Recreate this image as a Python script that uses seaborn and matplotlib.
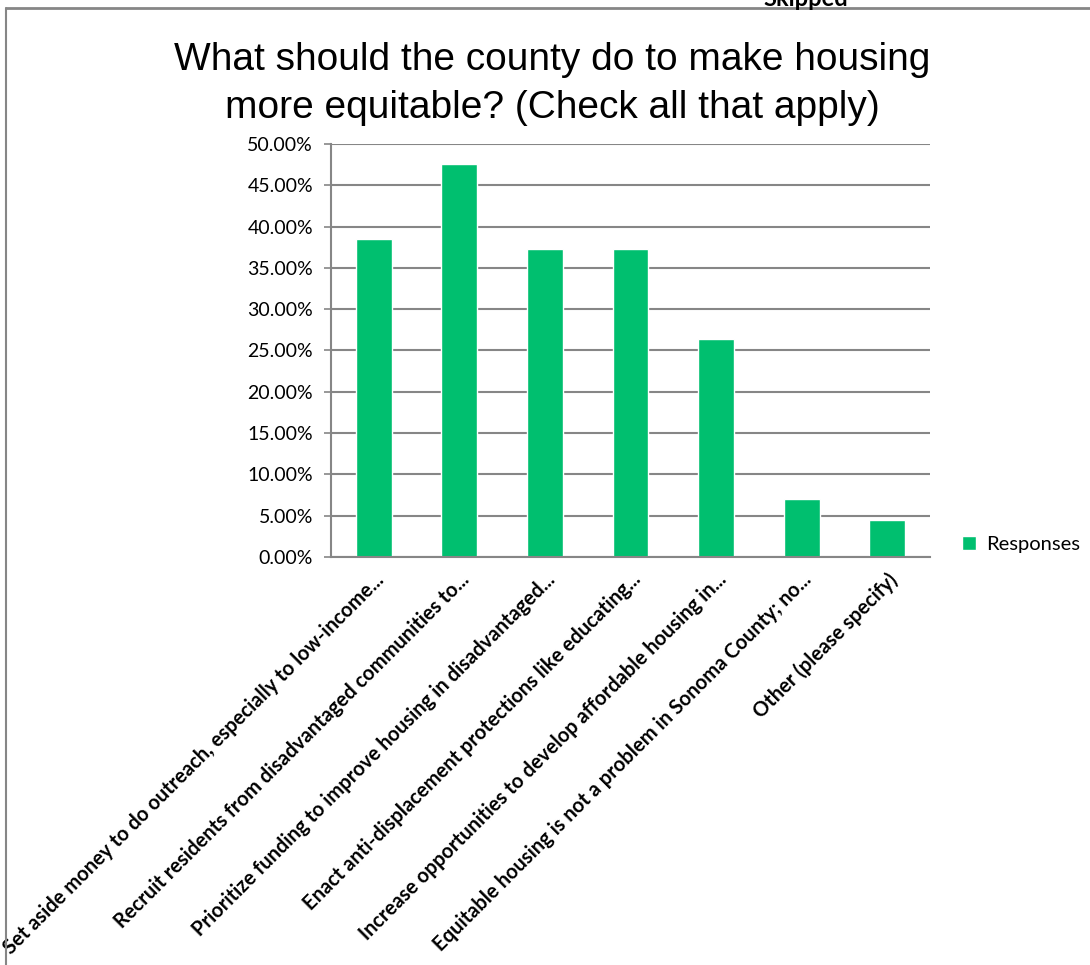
import matplotlib
matplotlib.use("Agg")
import matplotlib.pyplot as plt
import matplotlib.ticker as mticker
import seaborn as sns
import pandas as pd

# data
labels = [
    "Set aside money to do outreach, especially to low-income...",
    "Recruit residents from disadvantaged communities to...",
    "Prioritize funding to improve housing in disadvantaged...",
    "Enact anti-displacement protections like educating...",
    "Increase opportunities to develop affordable housing in...",
    "Equitable housing is not a problem in Sonoma County; no...",
    "Other (please specify)",
]
responses = [38.44, 47.62, 37.27, 37.27, 26.39, 6.99, 4.45]
title = "What should the county do to make housing\nmore equitable? (Check all that apply)"

df = pd.DataFrame({"option": labels, "pct": responses})

sns.set_theme(style="white")
plt.rcParams['font.family'] = ['Lato', 'DejaVu Sans']
plt.rcParams['text.color'] = 'black'
plt.rcParams['xtick.color'] = 'black'
plt.rcParams['ytick.color'] = 'black'

green = "#00BF6F"
grey = "#868686"

fig = plt.figure(figsize=(10.9, 9.65), dpi=100)
ax = fig.add_axes([0.3037, 0.4228, 0.5495, 0.428])

sns.barplot(data=df, x="option", y="pct", color=green, width=0.42,
            saturation=1, label="Responses", ax=ax)

ax.set_ylim(0, 50)
ax.set_xlim(-0.5, len(labels) - 0.5)
ax.yaxis.set_major_locator(mticker.MultipleLocator(5))
ax.yaxis.set_major_formatter(mticker.FuncFormatter(lambda v, p: f"{v:.2f}%"))
ax.grid(axis="y", color=grey, linewidth=1.5)
ax.set_axisbelow(True)
ax.set_xlabel("")
ax.set_ylabel("")

for s in ["top", "right"]:
    ax.spines[s].set_visible(False)
for s in ["left", "bottom"]:
    ax.spines[s].set_color(grey)
    ax.spines[s].set_linewidth(1.5)

# category boundary ticks like Excel
ax.set_xticks([i - 0.5 for i in range(len(labels) + 1)], minor=True)
ax.tick_params(axis="x", which="minor", length=5, color=grey, width=1.2)
ax.tick_params(axis="x", which="major", length=0, pad=9)
ax.tick_params(axis="y", length=5, color=grey, width=1.2, labelsize=14, pad=8)
ax.tick_params(axis="y", left=True)
for t in ax.get_xticklabels():
    t.set_rotation(45)
    t.set_ha("right")
    t.set_rotation_mode("anchor")
    t.set_fontweight("bold")
    t.set_fontsize(14.5)

leg = ax.legend(loc="center left", bbox_to_anchor=(1.04, 0.03), frameon=False,
                handlelength=0.7, handleheight=0.7, handletextpad=0.5,
                fontsize=14.5, borderaxespad=0)

fig.text(0.507, 0.913, title, ha="center", va="center", fontsize=28,
         family=["Liberation Sans", "DejaVu Sans"], linespacing=1.4)

# clipped note at the top and the frame edges
fig.text(0.70, 1.002, "Skipped", ha="left", va="center", fontsize=17, fontweight="bold")
fig.add_artist(plt.Line2D([0.0055, 1], [0.9917, 0.9917], color=grey, linewidth=2))
fig.add_artist(plt.Line2D([0.0055, 0.0055], [0, 0.9917], color=grey, linewidth=1.5))

fig.savefig("out.png", dpi=100)
